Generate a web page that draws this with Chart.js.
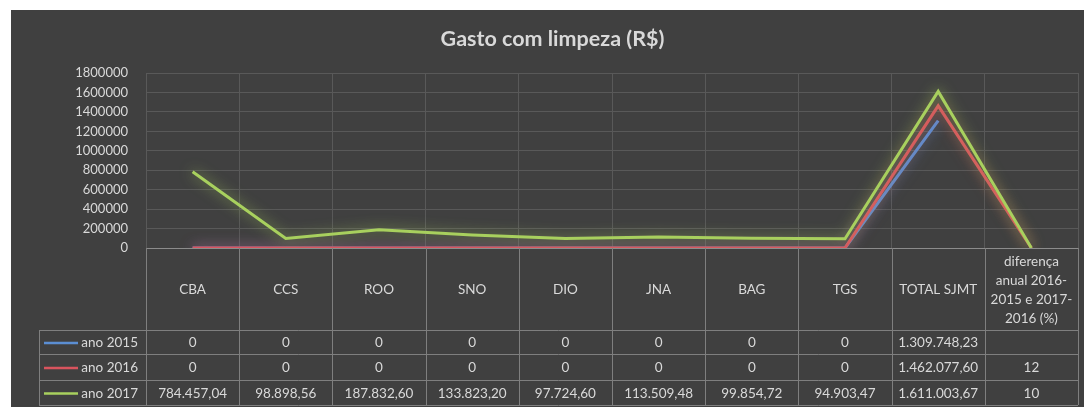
<!DOCTYPE html>
<html>
<head>
<meta charset="utf-8">
<script src="https://cdn.jsdelivr.net/npm/chart.js@4.4.0/dist/chart.umd.min.js"></script>
<style>
body { margin: 0; background: #ffffff; }
#caixa { position: absolute; left: 11px; top: 10px; width: 1073px; height: 397px; background: #404040; }
</style>
</head>
<body>
<div id="caixa"><canvas id="grafico"></canvas></div>
<script>
const categorias = ["CBA", "CCS", "ROO", "SNO", "DIO", "JNA", "BAG", "TGS", "TOTAL SJMT",
  ["diferença", "anual 2016-", "2015 e 2017-", "2016 (%)"]];
const series = ["ano 2015", "ano 2016", "ano 2017"];
const ano2015 = [0, 0, 0, 0, 0, 0, 0, 0, 1309748.23, null];
const ano2016 = [0, 0, 0, 0, 0, 0, 0, 0, 1462077.60, 12];
const ano2017 = [784457.04, 98898.56, 187832.60, 133823.20, 97724.60, 113509.48, 99854.72, 94903.47, 1611003.67, 10];
const ticksY = [0, 200000, 400000, 600000, 800000, 1000000, 1200000, 1400000, 1600000, 1800000];

const cores = ["#5b8ed3", "#d9545e", "#a8d05e"];
const brilhos = ["rgba(91,142,211,0.7)", "rgba(217,84,94,0.7)", "rgba(168,208,94,0.75)"];
const texto = "#d9d9d9";
const fonte = "Lato, 'Open Sans', sans-serif";

// 784457.04 -> 784.457,04
const fmt = (v) => {
  if (v === null) return "";
  if (Number.isInteger(v)) return String(v);
  let partes = v.toFixed(2).split(".");
  return partes[0].replace(/\B(?=(\d{3})+(?!\d))/g, ".") + "," + partes[1];
};

// brilho em volta das linhas (efeito do excel)
const brilho = {
  id: "brilho",
  beforeDatasetDraw(chart, args) {
    chart.ctx.save();
    chart.ctx.shadowColor = brilhos[args.index];
    chart.ctx.shadowBlur = 13;
  },
  afterDatasetDraw(chart) {
    chart.ctx.restore();
  }
};

// tabela de dados embaixo do grafico
const tabela = {
  id: "tabela",
  beforeDatasetsDraw(chart) {
    const ctx = chart.ctx;
    const area = chart.chartArea;
    const xs = chart.scales.x;
    const larg = (area.right - area.left) / categorias.length;
    const topo = area.bottom;
    const linhas = [topo + 82, topo + 106, topo + 132, topo + 157];
    const esq = 28;

    ctx.save();
    ctx.strokeStyle = "#7f7f7f";
    ctx.lineWidth = 1;
    ctx.beginPath();
    for (let i = 0; i <= categorias.length; i++) {
      let x = Math.round(area.left + i * larg) + 0.5;
      ctx.moveTo(x, topo);
      ctx.lineTo(x, linhas[3]);
    }
    ctx.moveTo(esq + 0.5, linhas[0]);
    ctx.lineTo(esq + 0.5, linhas[3]);
    linhas.forEach(y => {
      ctx.moveTo(esq, y + 0.5);
      ctx.lineTo(area.right, y + 0.5);
    });
    ctx.stroke();

    ctx.fillStyle = texto;
    ctx.textAlign = "center";
    ctx.textBaseline = "middle";
    ctx.font = "13.5px " + fonte;
    categorias.forEach((c, i) => {
      let cx = xs.getPixelForValue(i);
      let partes = Array.isArray(c) ? c : [c];
      let y0 = (topo + linhas[0]) / 2 + 1 - (partes.length - 1) * 19 / 2;
      partes.forEach((p, k) => ctx.fillText(p, cx, y0 + k * 19));
    });

    const valores = [ano2015, ano2016, ano2017];
    valores.forEach((vals, s) => {
      let cy = (linhas[s] + linhas[s + 1]) / 2 + 1;
      ctx.textAlign = "center";
      vals.forEach((v, i) => ctx.fillText(fmt(v), xs.getPixelForValue(i), cy));
      ctx.strokeStyle = cores[s];
      ctx.lineWidth = 2.5;
      ctx.beginPath();
      ctx.moveTo(33, cy);
      ctx.lineTo(67, cy);
      ctx.stroke();
      ctx.textAlign = "right";
      ctx.fillText(series[s], 127, cy);
    });
    ctx.restore();
  }
};

const dados = [ano2015, ano2016, ano2017];
const conjuntos = series.map((nome, s) => ({
  label: nome,
  data: dados[s],
  borderColor: cores[s],
  backgroundColor: cores[s],
  borderWidth: 3,
  pointRadius: 0,
  tension: 0,
  order: 3 - s
}));

const config = {
  type: "line",
  data: {
    labels: categorias,
    datasets: conjuntos
  },
  options: {
    responsive: true,
    maintainAspectRatio: false,
    animation: false,
    layout: { padding: { left: 16, right: 6, top: 0, bottom: 0 } },
    plugins: {
      legend: { display: false },
      tooltip: { enabled: false },
      title: {
        display: true,
        text: "Gasto com limpeza (R$)",
        color: texto,
        font: { family: fonte, size: 21.5, weight: "bold" },
        padding: { top: 16.1, bottom: 21.1 }
      }
    },
    scales: {
      x: {
        offset: true,
        ticks: { display: false },
        grid: { offset: true, color: "#595959", drawTicks: false },
        border: { color: "#8c8c8c" },
        afterFit: (s) => { s.height = 159; }
      },
      y: {
        min: 0,
        max: 1800000,
        afterBuildTicks: (s) => { s.ticks = ticksY.map(v => ({ value: v })); },
        ticks: {
          color: texto,
          font: { family: fonte, size: 13 },
          padding: 18,
          autoSkip: false,
          callback: (v) => String(v)
        },
        grid: { color: "#595959", drawTicks: false },
        border: { display: false },
        afterFit: (s) => { s.width = 119; }
      }
    }
  },
  plugins: [tabela, brilho]
};

const grafico = new Chart(document.getElementById("grafico").getContext("2d"), config);
</script>
</body>
</html>
